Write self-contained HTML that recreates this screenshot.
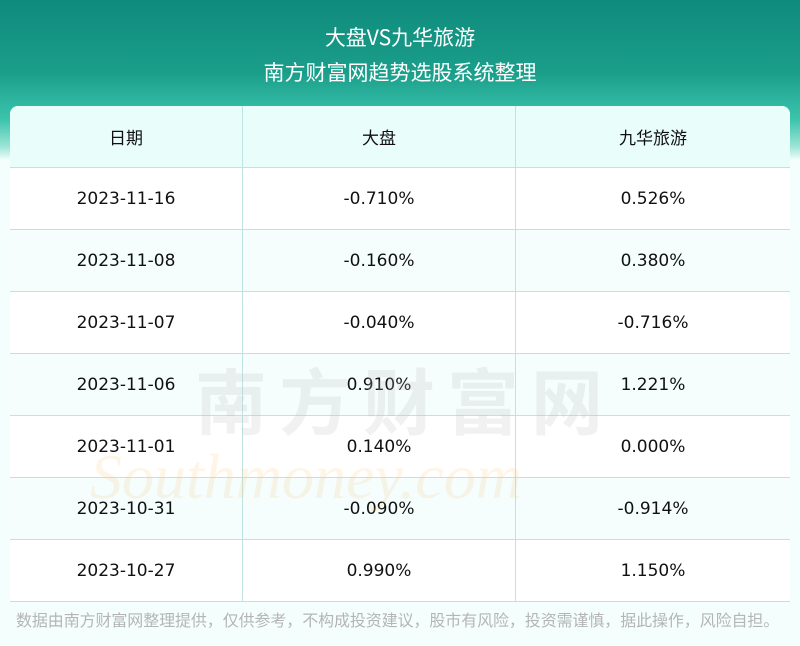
<!DOCTYPE html><html><head><meta charset="utf-8"><style>
body{margin:0;width:800px;height:646px;overflow:hidden;background:#f4fefd;font-family:"DejaVu Sans","Noto Sans CJK SC",sans-serif;position:relative}
.top{position:absolute;left:0;top:0;width:800px;height:160px;background:linear-gradient(180deg,#0f8a7c 0%,#1a9e8a 45%,#3cc4ad 75%,#9fe5d6 92%,#f4fefd 100%)}
.t{position:absolute;width:800px;text-align:center;color:#fff;font-size:21px;font-family:"Noto Sans CJK SC",sans-serif;line-height:28px}
table{position:absolute;left:10px;top:106px;width:780px;border-collapse:collapse;background:#fff;border-radius:8px 8px 0 0;overflow:hidden}
td{height:61px;border:1px solid #bfe3e0;text-align:center;font-size:17px;color:#111;padding:0}
tr td:first-child{border-left:none;width:232px}tr td:nth-child(2){width:272px}tr td:last-child{border-right:none}
tr:first-child td{border-top:none;background:#e9fdfb}
tr.a td{background:#f5fdfd}
.f{position:absolute;left:16px;top:607px;font-size:16px;color:#b5b5b5;font-family:"Noto Sans CJK SC",sans-serif;white-space:nowrap;letter-spacing:-0.1px}
.wm{position:absolute;left:195px;top:345px;font-size:72px;color:rgba(190,190,190,.22);letter-spacing:12px;font-weight:bold;font-family:"Noto Sans CJK SC",sans-serif}
.wm2{position:absolute;left:90px;top:440px;font-size:64px;color:rgba(250,200,120,.18);font-family:"Liberation Serif",serif;font-style:italic}
</style></head><body>
<div class="top"></div>
<div class="t" style="top:23px">大盘VS九华旅游</div>
<div class="t" style="top:58px">南方财富网趋势选股系统整理</div>
<table>
<tr><td>日期</td><td>大盘</td><td>九华旅游</td></tr>
<tr><td>2023-11-16</td><td>-0.710%</td><td>0.526%</td></tr>
<tr class="a"><td>2023-11-08</td><td>-0.160%</td><td>0.380%</td></tr>
<tr><td>2023-11-07</td><td>-0.040%</td><td>-0.716%</td></tr>
<tr class="a"><td>2023-11-06</td><td>0.910%</td><td>1.221%</td></tr>
<tr><td>2023-11-01</td><td>0.140%</td><td>0.000%</td></tr>
<tr class="a"><td>2023-10-31</td><td>-0.090%</td><td>-0.914%</td></tr>
<tr><td>2023-10-27</td><td>0.990%</td><td>1.150%</td></tr>
</table>
<div class="wm">南方财富网</div>
<div class="wm2">Southmoney.com</div>
<div class="f">数据由南方财富网整理提供，仅供参考，不构成投资建议，股市有风险，投资需谨慎，据此操作，风险自担。</div>
</body></html>
